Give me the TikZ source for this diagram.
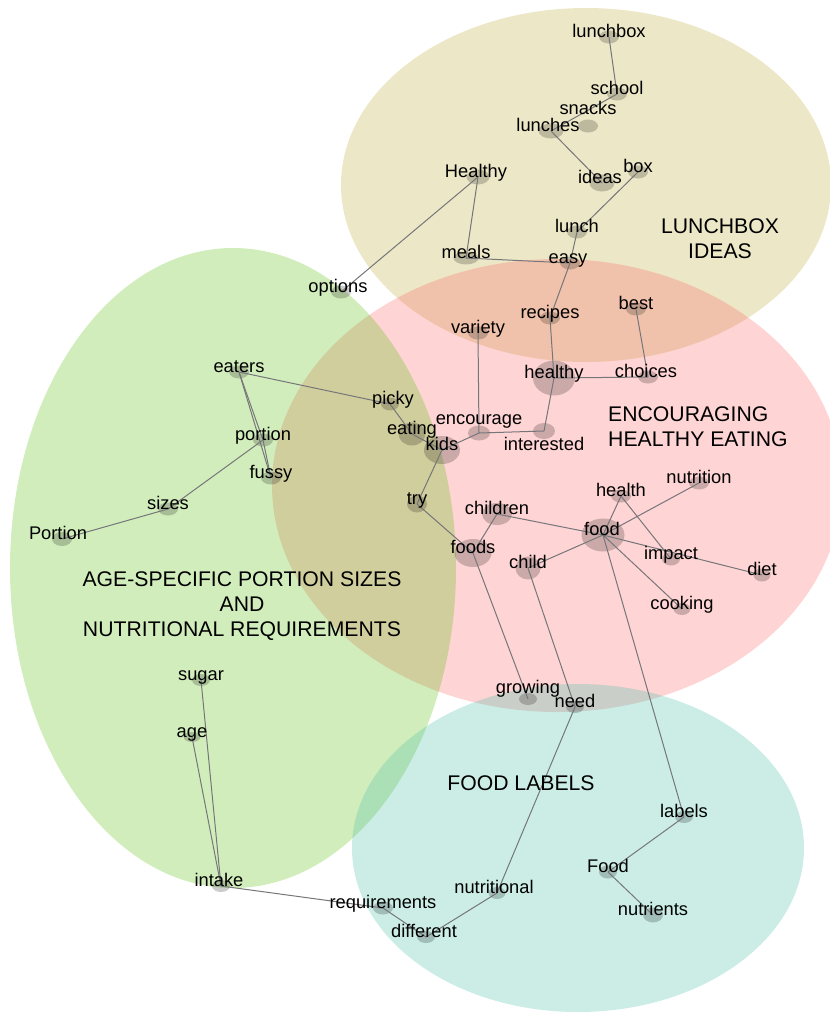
\documentclass[tikz,border=0pt]{standalone}
\usepackage{fontspec}
\setmainfont{Liberation Sans}
\usetikzlibrary{shapes.geometric}

\definecolor{lunchcol}{RGB}{192,175,65}
\definecolor{encourcol}{RGB}{252,112,112}
\definecolor{agecol}{RGB}{105,195,32}
\definecolor{labelcol}{RGB}{82,195,172}
\definecolor{edgecol}{RGB}{118,118,122}

\begin{document}
\begin{tikzpicture}[x=1pt,y=-1pt,
  zone/.style={fill opacity=0.3},
  blob/.style={ellipse,fill=black,fill opacity=0.2,inner sep=0pt,minimum width=20pt,minimum height=13pt},
  bigblob/.style={blob,minimum width=42pt,minimum height=33pt},
  word/.style={anchor=base,inner sep=0pt,font=\fontsize{18.3}{22}\selectfont},
  topic/.style={inner sep=0pt,align=center,font=\fontsize{21.2}{25}\selectfont},
  link/.style={draw=edgecol,line width=1pt}]
\useasboundingbox (0,0) rectangle (830,1013);

% topic areas
\fill[zone,lunchcol] (586,185) ellipse [x radius=245pt, y radius=177pt];
\fill[zone,encourcol] (557,485.5) ellipse [x radius=285pt, y radius=226.5pt];
\fill[zone,agecol] (233,568) ellipse [x radius=223pt, y radius=320pt];
\fill[zone,labelcol] (578,848) ellipse [x radius=226pt, y radius=164pt];

% word spots
\node (lunchbox) at (609,37) [blob] {};
\node (school) at (617,94) [blob] {};
\node (snacks) at (588,126) [blob] {};
\node (lunches) at (551,131) [blob,minimum width=25pt,minimum height=15pt] {};
\node (ideas) at (602,183) [blob,minimum width=25pt,minimum height=17pt] {};
\node (box) at (638,172) [blob] {};
\node (Healthy) at (478,177) [blob,minimum width=23pt,minimum height=15pt] {};
\node (lunch) at (577,232) [blob] {};
\node (meals) at (466,258) [blob,minimum width=25pt] {};
\node (easy) at (570,263) [blob] {};
\node (options) at (341,292) [blob] {};
\node (recipes) at (550,318) [blob] {};
\node (variety) at (478,333) [blob] {};
\node (best) at (636,309) [blob] {};
\node (healthy) at (554,378) [bigblob,minimum height=35pt] {};
\node (choices) at (648,377) [blob] {};
\node (eaters) at (239,372) [blob] {};
\node (picky) at (390,404) [blob,minimum width=18pt] {};
\node (eating) at (412,434) [blob,minimum width=27pt,minimum height=23pt] {};
\node (kids) at (442,450) [bigblob,minimum width=36pt,minimum height=28pt] {};
\node (encourage) at (479,433) [blob,minimum width=22pt,minimum height=15pt] {};
\node (interested) at (544,431) [blob,minimum width=22pt,minimum height=16pt] {};
\node (portion) at (263,440) [blob] {};
\node (fussy) at (271,478) [blob] {};
\node (nutrition) at (699,483) [blob] {};
\node (health) at (621,496) [blob] {};
\node (try) at (417,504) [blob,minimum height=17pt] {};
\node (sizes) at (168,509) [blob] {};
\node (children) at (497,514) [blob,minimum width=30pt,minimum height=22pt] {};
\node (food) at (603,535) [bigblob,minimum width=43pt] {};
\node (Portion) at (62,539) [blob,minimum height=14pt] {};
\node (foods) at (473,553) [bigblob,minimum width=37pt,minimum height=28pt] {};
\node (impact) at (671,559) [blob,minimum width=18pt] {};
\node (child) at (528,568) [blob,minimum width=25pt,minimum height=23pt] {};
\node (diet) at (762,575) [blob,minimum width=17pt] {};
\node (cooking) at (682,609) [blob,minimum width=17pt,minimum height=12pt] {};
\node (sugar) at (201,680) [blob,minimum width=18pt,minimum height=12pt] {};
\node (growing) at (528,699) [blob,minimum width=18pt,minimum height=12pt] {};
\node (need) at (575,707) [blob,minimum width=18pt,minimum height=12pt] {};
\node (age) at (192,737) [blob,minimum width=17pt,minimum height=10pt] {};
\node (labels) at (684,817) [blob,minimum width=18pt,minimum height=12pt] {};
\node (Food) at (608,872) [blob,minimum width=18pt] {};
\node (intake) at (221,886) [blob,minimum width=18pt,minimum height=12pt] {};
\node (nutritional) at (497,893) [blob,minimum width=17pt,minimum height=12pt] {};
\node (requirements) at (383,908) [blob] {};
\node (nutrients) at (653,915) [blob,minimum height=15pt] {};
\node (different) at (426,937) [blob,minimum width=18pt,minimum height=12pt] {};

% links
\draw[link] (lunchbox.center) -- (school.center);
\draw[link] (school.center) -- (lunches.center);
\draw[link] (lunches.center) -- (ideas.center);
\draw[link] (box.center) -- (lunch.center);
\draw[link] (lunch.center) -- (easy.center);
\draw[link] (Healthy.center) -- (options.center);
\draw[link] (Healthy.center) -- (meals.center);
\draw[link] (meals.center) -- (easy.center);
\draw[link] (easy.center) -- (recipes.center);
\draw[link] (recipes.center) -- (healthy.center);
\draw[link] (healthy.center) -- (interested.center);
\draw[link] (healthy.center) -- (choices.center);
\draw[link] (best.center) -- (choices.center);
\draw[link] (interested.center) -- (encourage.center);
\draw[link] (encourage.center) -- (variety.center);
\draw[link] (encourage.center) -- (kids.center);
\draw[link] (eaters.center) -- (picky.center);
\draw[link] (picky.center) -- (eating.center);
\draw[link] (eating.center) -- (kids.center);
\draw[link] (kids.center) -- (try.center);
\draw[link] (try.center) -- (foods.center);
\draw[link] (eaters.center) -- (fussy.center);
\draw[link] (eaters.center) -- (portion.center);
\draw[link] (portion.center) -- (fussy.center);
\draw[link] (portion.center) -- (sizes.center);
\draw[link] (sizes.center) -- (Portion.center);
\draw[link] (children.center) -- (food.center);
\draw[link] (children.center) -- (foods.center);
\draw[link] (health.center) -- (food.center);
\draw[link] (health.center) -- (impact.center);
\draw[link] (nutrition.center) -- (food.center);
\draw[link] (food.center) -- (diet.center);
\draw[link] (food.center) -- (child.center);
\draw[link] (food.center) -- (cooking.center);
\draw[link] (food.center) -- (labels.center);
\draw[link] (foods.center) -- (growing.center);
\draw[link] (child.center) -- (need.center);
\draw[link] (need.center) -- (nutritional.center);
\draw[link] (nutritional.center) -- (different.center);
\draw[link] (requirements.center) -- (different.center);
\draw[link] (intake.center) -- (requirements.center);
\draw[link] (sugar.center) -- (intake.center);
\draw[link] (age.center) -- (intake.center);
\draw[link] (labels.center) -- (Food.center);
\draw[link] (Food.center) -- (nutrients.center);

% words
\node (lunchbox-w) at (lunchbox.center) [word] {lunchbox};
\node (school-w) at (school.center) [word] {school};
\node (snacks-w) at (snacks.center) [word,yshift=12pt] {snacks};
\node (lunches-w) at (lunches.center) [word,xshift=-3pt] {lunches};
\node (ideas-w) at (ideas.center) [word,xshift=-2pt] {ideas};
\node (box-w) at (box.center) [word] {box};
\node (Healthy-w) at (Healthy.center) [word,xshift=-2pt] {Healthy};
\node (lunch-w) at (lunch.center) [word] {lunch};
\node (meals-w) at (meals.center) [word] {meals};
\node (easy-w) at (easy.center) [word,xshift=-2pt] {easy};
\node (options-w) at (options.center) [word,xshift=-3pt] {options};
\node (recipes-w) at (recipes.center) [word] {recipes};
\node (variety-w) at (variety.center) [word] {variety};
\node (best-w) at (best.center) [word] {best};
\node (healthy-w) at (healthy.center) [word] {healthy};
\node (choices-w) at (choices.center) [word,xshift=-2pt] {choices};
\node (eaters-w) at (eaters.center) [word] {eaters};
\node (picky-w) at (picky.center) [word,xshift=3pt] {picky};
\node (eating-w) at (eating.center) [word] {eating};
\node (kids-w) at (kids.center) [word] {kids};
\node (encourage-w) at (encourage.center) [word,yshift=9pt] {encourage};
\node (interested-w) at (interested.center) [word,yshift=-19pt] {interested};
\node (portion-w) at (portion.center) [word] {portion};
\node (fussy-w) at (fussy.center) [word] {fussy};
\node (nutrition-w) at (nutrition.center) [word] {nutrition};
\node (health-w) at (health.center) [word] {health};
\node (try-w) at (try.center) [word] {try};
\node (sizes-w) at (sizes.center) [word] {sizes};
\node (children-w) at (children.center) [word] {children};
\node (food-w) at (food.center) [word,xshift=-1pt] {food};
\node (Portion-w) at (Portion.center) [word,xshift=-4pt] {Portion};
\node (foods-w) at (foods.center) [word] {foods};
\node (impact-w) at (impact.center) [word] {impact};
\node (child-w) at (child.center) [word] {child};
\node (diet-w) at (diet.center) [word] {diet};
\node (cooking-w) at (cooking.center) [word] {cooking};
\node (sugar-w) at (sugar.center) [word] {sugar};
\node (growing-w) at (growing.center) [word,yshift=6pt] {growing};
\node (need-w) at (need.center) [word] {need};
\node (age-w) at (age.center) [word] {age};
\node (labels-w) at (labels.center) [word] {labels};
\node (Food-w) at (Food.center) [word] {Food};
\node (intake-w) at (intake.center) [word,xshift=-2pt] {intake};
\node (nutritional-w) at (nutritional.center) [word,xshift=-3pt] {nutritional};
\node (requirements-w) at (requirements.center) [word] {requirements};
\node (nutrients-w) at (nutrients.center) [word] {nutrients};
\node (different-w) at (different.center) [word,xshift=-2pt] {different};

% topic names
\node (lunchtopic) at (720,239) [topic] {LUNCHBOX\\IDEAS};
\node (encourtopic) at (608,427) [topic,anchor=west,align=left] {ENCOURAGING\\HEALTHY EATING};
\node (agetopic) at (242,606.5) [topic] {AGE-SPECIFIC PORTION SIZES\\AND\\NUTRITIONAL REQUIREMENTS};
\node (labeltopic) at (521,783) [topic] {FOOD LABELS};
\end{tikzpicture}
\end{document}
